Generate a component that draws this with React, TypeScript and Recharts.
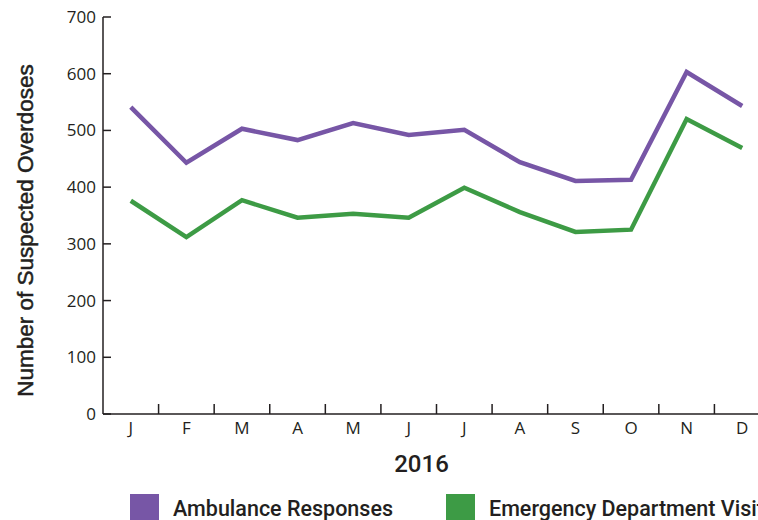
import { LineChart, Line, XAxis, YAxis, Legend, Label } from "recharts";

const months = ["J", "F", "M", "A", "M", "J", "J", "A", "S", "O", "N", "D"];
const ambulance = [541, 443, 503, 483, 513, 492, 501, 444, 411, 413, 603, 543];
const emergency = [376, 312, 377, 346, 353, 346, 399, 356, 321, 325, 520, 469];
const yTicks = [0, 100, 200, 300, 400, 500, 600, 700];

const PURPLE = "#7756a6";
const GREEN = "#3d9b45";
const INK = "#231f20";

const CHART_W = 790;
const CHART_H = 520;
const MARGIN = { top: 17, right: 20, bottom: 0, left: 0 };
const Y_AXIS_W = 103;
const BAND = (CHART_W - MARGIN.left - MARGIN.right - Y_AXIS_W) / months.length;

const data = months.map((m, i) => ({
  month: m,
  ambulance: ambulance[i],
  emergency: emergency[i],
}));

// month label at band centre, tick mark at the band's right edge pointing up
function MonthTick({ x, y, payload }: any) {
  const axisY = y - 16;
  return (
    <g>
      <line x1={x + BAND / 2} x2={x + BAND / 2} y1={axisY} y2={axisY - 10} stroke={INK} strokeWidth={1.5} />
      <text x={x} y={axisY + 20} textAnchor="middle" fill={INK} fontSize={17} fontFamily="'Open Sans', sans-serif">
        {payload.value}
      </text>
    </g>
  );
}

function LegendBox() {
  const item = (color: string, label: string, left: number) => (
    <div style={{ position: "absolute", left, top: 0, display: "flex", alignItems: "center" }}>
      <div style={{ width: 29, height: 29, background: color }} />
      <span style={{ marginLeft: 14, fontSize: 21.5, fontWeight: 500, color: INK, whiteSpace: "nowrap" }}>{label}</span>
    </div>
  );
  return (
    <div style={{ position: "relative", height: 30, fontFamily: "Roboto, sans-serif" }}>
      {item(PURPLE, "Ambulance Responses", 130)}
      {item(GREEN, "Emergency Department Visits", 446)}
    </div>
  );
}

export default function App() {
  return (
    <div style={{ position: "fixed", left: 0, top: 0, width: 758, height: 520, overflow: "hidden", background: "#fff" }}>
      <LineChart width={CHART_W} height={CHART_H} data={data} margin={MARGIN}>
        <XAxis
          dataKey="month"
          padding={{ left: BAND / 2, right: BAND / 2 }}
          height={76}
          axisLine={{ stroke: INK, strokeWidth: 1.5 }}
          tickLine={false}
          tickSize={0}
          tick={<MonthTick />}
          tickMargin={16}
          interval={0}
        >
          <Label
            content={({ viewBox }: any) => (
              <text
                x={viewBox.x + viewBox.width / 2 - 15}
                y={viewBox.y + 58}
                textAnchor="middle"
                fill={INK}
                fontSize={24}
                fontWeight={500}
                fontFamily="Roboto, sans-serif"
              >
                2016
              </text>
            )}
          />
        </XAxis>
        <YAxis
          width={Y_AXIS_W}
          domain={[0, 700]}
          ticks={yTicks}
          interval={0}
          axisLine={{ stroke: INK, strokeWidth: 1.5 }}
          tickLine={{ stroke: INK, strokeWidth: 1.5 }}
          tickSize={-8}
          tickMargin={15}
          tick={{ fill: INK, fontSize: 17, fontFamily: "'Open Sans', sans-serif" }}
        >
          <Label
            content={({ viewBox }: any) => {
              const cx = 25;
              const cy = viewBox.y + viewBox.height / 2 + 15;
              return (
                <text
                  x={cx}
                  y={cy}
                  transform={`rotate(-90 ${cx} ${cy})`}
                  textAnchor="middle"
                  dominantBaseline="central"
                  fill={INK}
                  stroke={INK}
                  strokeWidth={0.5}
                  fontSize={22.5}
                  fontFamily="'Liberation Sans', Arial, sans-serif"
                >
                  Number of Suspected Overdoses
                </text>
              );
            }}
          />
        </YAxis>
        <Legend
          content={<LegendBox />}
          wrapperStyle={{ position: "absolute", left: 0, top: 494, width: 758 }}
        />
        <Line
          type="linear"
          dataKey="ambulance"
          name="Ambulance Responses"
          stroke={PURPLE}
          strokeWidth={4.5}
          dot={false}
          activeDot={false}
          isAnimationActive={false}
        />
        <Line
          type="linear"
          dataKey="emergency"
          name="Emergency Department Visits"
          stroke={GREEN}
          strokeWidth={4.5}
          dot={false}
          activeDot={false}
          isAnimationActive={false}
        />
      </LineChart>
    </div>
  );
}
